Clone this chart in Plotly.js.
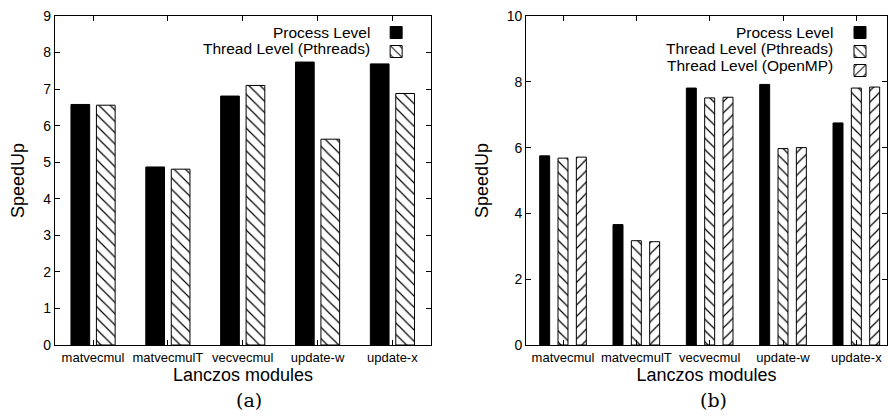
<!DOCTYPE html>
<html>
<head>
<meta charset="utf-8">
<script src="https://cdn.plot.ly/plotly-3.0.1.min.js"></script>
<style>
  html, body { margin: 0; padding: 0; background: #fff; }
  #chart { width: 889px; height: 416px; }
</style>
</head>
<body>
<div id="chart"></div>
<script>
// ---------- data ----------
const modules = ["matvecmul", "matvecmulT", "vecvecmul", "update-w", "update-x"];

// panel (a)
const a_process   = [6.58, 4.87, 6.81, 7.74, 7.69];
const a_pthreads  = [6.56, 4.81, 7.10, 5.63, 6.88];

// panel (b)
const b_process   = [5.75, 3.66, 7.81, 7.92, 6.75];
const b_pthreads  = [5.68, 3.17, 7.51, 5.97, 7.81];
const b_openmp    = [5.71, 3.14, 7.53, 6.00, 7.84];

const seriesNames = ["Process Level", "Thread Level (Pthreads)", "Thread Level (OpenMP)"];
const panelLabels = ["(a)", "(b)"];
const xTitle = "Lanczos modules";
const yTitle = "SpeedUp";

// ---------- styles ----------
const FONT = "'Liberation Sans', Arial, Helvetica, sans-serif";
const outline = { color: "black", width: 1 };
const solid = { color: "black", line: outline };
const hatchBack = { color: "white", line: outline,
  pattern: { shape: "\\", size: 8, solidity: 0.15, fgcolor: "black", bgcolor: "white", fillmode: "replace" } };
const hatchFwd = { color: "white", line: outline,
  pattern: { shape: "/", size: 8, solidity: 0.15, fgcolor: "black", bgcolor: "white", fillmode: "replace" } };

function bar(y, marker, xa, ya, width, offset, legend) {
  return { type: "bar", x: modules, y: y, xaxis: xa, yaxis: ya, marker: marker,
    width: width, offset: offset, name: " ", legend: legend, hoverinfo: "skip" };
}

const data = [
  bar(a_process,  solid,     "x",  "y",  0.25, -0.295, "legend"),
  bar(a_pthreads, hatchBack, "x",  "y",  0.25,  0.045, "legend"),
  bar(b_process,  solid,     "x2", "y2", 0.136, -0.318, "legend2"),
  bar(b_pthreads, hatchBack, "x2", "y2", 0.136, -0.068, "legend2"),
  bar(b_openmp,   hatchFwd,  "x2", "y2", 0.136,  0.182, "legend2")
];

const xCommon = {
  type: "category", showgrid: false, zeroline: false,
  showline: true, linecolor: "black", linewidth: 1, mirror: "ticks",
  ticks: "inside", ticklen: 5, tickcolor: "black", tickwidth: 1,
  tickfont: { family: FONT, size: 13, color: "black" },
  title: { text: xTitle, font: { family: FONT, size: 18, color: "black" }, standoff: 3 },
  fixedrange: true
};
const yCommon = {
  showgrid: false, zeroline: false,
  showline: true, linecolor: "black", linewidth: 1, mirror: "ticks",
  ticks: "inside", ticklen: 5, tickcolor: "black", tickwidth: 1,
  tickfont: { family: FONT, size: 14, color: "black" },
  title: { text: yTitle, font: { family: FONT, size: 18, color: "black" }, standoff: 13 },
  fixedrange: true
};

const legendFont = { family: FONT, size: 15.5, color: "black" };
function legendText(x, y, t) {
  return { xref: "paper", yref: "paper", x: x, y: y, xanchor: "right", yanchor: "middle",
    text: t, showarrow: false, font: legendFont };
}
// paper y for a pixel row (plot area spans 16..345)
function py(p) { return (345 - p) / 329; }
function px(p) { return p / 889; }

const layout = {
  width: 889, height: 416,
  margin: { l: 0, r: 0, t: 16, b: 71 },
  paper_bgcolor: "white", plot_bgcolor: "white",
  barmode: "group",
  showlegend: true,
  xaxis:  Object.assign({}, xCommon, { domain: [px(55), px(432)], range: [-0.51, 4.516], anchor: "y" }),
  yaxis:  Object.assign({}, yCommon, { domain: [0, 1], range: [0, 9], dtick: 1, anchor: "x" }),
  xaxis2: Object.assign({}, xCommon, { domain: [px(527.3), 1], range: [-0.503, 4.418], anchor: "y2" }),
  yaxis2: Object.assign({}, yCommon, { domain: [0, 1], range: [0, 10], dtick: 2, anchor: "x2" }),
  legend:  { x: px(377), xanchor: "left", y: py(18), yanchor: "top", bgcolor: "rgba(0,0,0,0)",
             borderwidth: 0, font: { family: FONT, size: 11 }, traceorder: "normal" },
  legend2: { x: px(842), xanchor: "left", y: py(18), yanchor: "top", bgcolor: "rgba(0,0,0,0)",
             borderwidth: 0, font: { family: FONT, size: 11 }, traceorder: "normal" },
  annotations: [
    legendText(px(373), py(32), seriesNames[0]),
    legendText(px(373), py(49), seriesNames[1]),
    legendText(px(837), py(32), seriesNames[0]),
    legendText(px(837), py(49), seriesNames[1]),
    legendText(px(837), py(65), seriesNames[2]),
    { xref: "paper", yref: "paper", x: px(250), y: py(400), xanchor: "center", yanchor: "middle",
      text: panelLabels[0], showarrow: false, font: { family: "'DejaVu Serif', serif", size: 19, color: "black" } },
    { xref: "paper", yref: "paper", x: px(715), y: py(400), xanchor: "center", yanchor: "middle",
      text: panelLabels[1], showarrow: false, font: { family: "'DejaVu Serif', serif", size: 19, color: "black" } }
  ]
};

Plotly.newPlot("chart", data, layout, { displayModeBar: false, staticPlot: true });
</script>
</body>
</html>
